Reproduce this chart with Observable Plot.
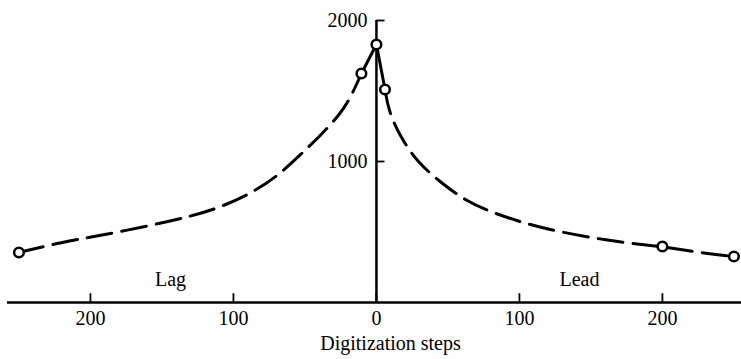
<!DOCTYPE html>
<html>
<head>
<meta charset="utf-8">
<script src="https://cdn.jsdelivr.net/npm/d3@7"></script>
<script src="https://cdn.jsdelivr.net/npm/@observablehq/plot@0.6"></script>
<style>
  html, body { margin: 0; padding: 0; background: #fff; }
</style>
</head>
<body>
<div id="chart"></div>
<script>
// Measured points (digitization step offset, value); negative = lag
const pointX = [-250, -10.5, 0, 6, 200, 250];
const pointY = [355, 1624, 1830, 1511, 397, 326];

// Dashed fitted curve, lag side
const lagX = [-250, -221, -193, -158, -130, -109, -85, -67, -53, -39, -25, -18, -10.5];
const lagY = [355, 426, 475, 546, 610, 674, 787, 915, 1050, 1185, 1340, 1454, 1624];

// Solid segment joining the central points
const peakX = [-10.5, 0, 6];
const peakY = [1624, 1830, 1511];

// Dashed fitted curve, lead side
const leadX = [6, 8.4, 16.8, 29.4, 46, 62, 81, 104, 130, 162, 185, 200, 225, 250];
const leadY = [1511, 1362, 1170, 986, 844, 723, 638, 560, 496, 440, 411, 397, 355, 326];

const xTicks = [-200, -100, 0, 100, 200];
const yTicks = [1000, 2000];
const xTitle = "Digitization steps";
const sideLabels = ["Lag", "Lead"];

const zip = (xs, ys) => xs.map((x, i) => ({x, y: ys[i]}));
const points = zip(pointX, pointY);
const lag = zip(lagX, lagY);
const peak = zip(peakX, peakY);
const lead = zip(leadX, leadY);

const lineStyle = {x: "x", y: "y", stroke: "black", strokeWidth: 3, curve: "basis"};

const chart = Plot.plot({
  width: 741,
  height: 359,
  marginTop: 20,
  marginBottom: 57,
  marginLeft: 7,
  marginRight: 0,
  style: {fontFamily: "'Liberation Serif', 'DejaVu Serif', serif", fontSize: "20px", color: "black", background: "white"},
  x: {domain: [-258, 255.3]},
  y: {domain: [0, 2000], axis: null},
  marks: [
    Plot.line(lag, {...lineStyle, strokeDasharray: "25,10"}),
    Plot.line(lead, {...lineStyle, strokeDasharray: "25,10"}),
    Plot.line(peak, {...lineStyle, curve: "linear"}),
    Plot.ruleY([0], {stroke: "black", strokeWidth: 2.5}),
    Plot.ruleX([0], {y1: 0, y2: 2000, stroke: "black", strokeWidth: 2.5}),
    Plot.ruleX(xTicks, {x: d => d, y1: 0, y2: 62, stroke: "black", strokeWidth: 1.8}),
    Plot.ruleY(yTicks, {y: d => d, x1: 0, x2: 6, stroke: "black", strokeWidth: 1.8}),
    Plot.text(yTicks, {x: 0, y: d => d, text: d => String(d), textAnchor: "end", dx: -9, fill: "black", fontSize: 20}),
    Plot.axisX({ticks: xTicks, tickFormat: d => Math.abs(d), tickSize: 0, tickPadding: 8, label: null, fontSize: 20}),
    Plot.text([xTitle], {frameAnchor: "bottom", text: d => d, dx: 16, dy: 47, lineAnchor: "bottom", fill: "black", fontSize: 20}),
    Plot.text([sideLabels[0]], {x: -144, y: 120, text: d => d, lineAnchor: "bottom", fill: "black", fontSize: 20}),
    Plot.text([sideLabels[1]], {x: 142, y: 120, text: d => d, lineAnchor: "bottom", fill: "black", fontSize: 20}),
    Plot.dot(points, {x: "x", y: "y", r: 4.8, fill: "white", stroke: "black", strokeWidth: 2.5})
  ]
});
document.getElementById("chart").appendChild(chart);
</script>
</body>
</html>
